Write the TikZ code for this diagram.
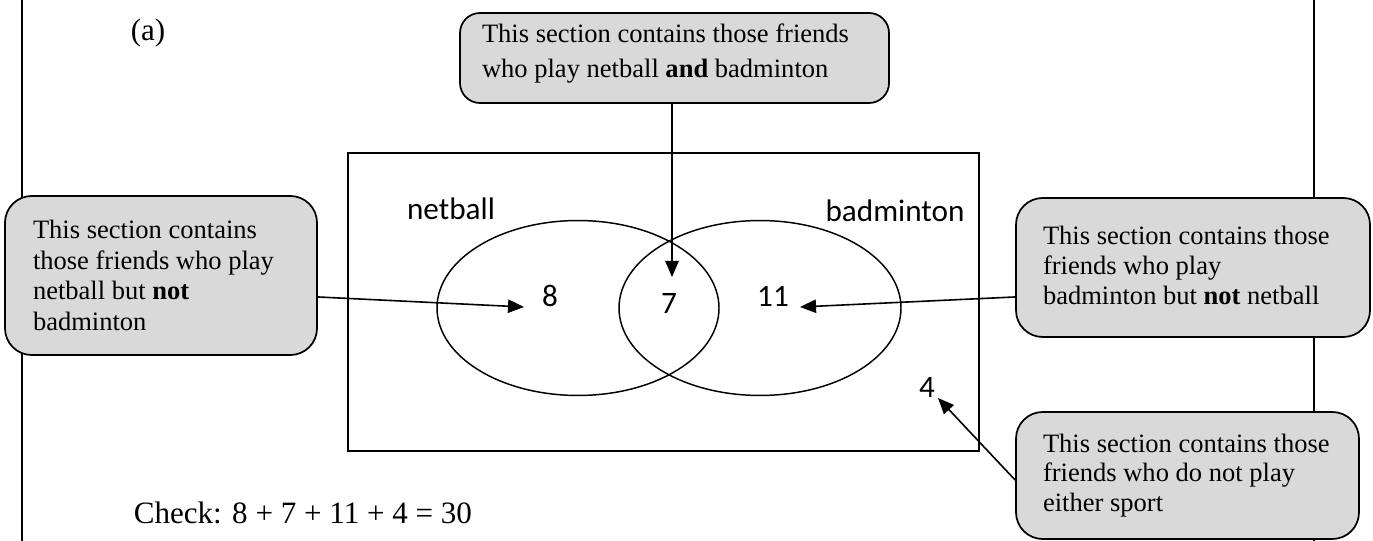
\documentclass[tikz,border=0pt]{standalone}
\usepackage{fontspec}
\setmainfont{Liberation Serif}
\newfontfamily\calibri{Carlito}
\usetikzlibrary{arrows.meta,calc}
\definecolor{boxgray}{RGB}{217,217,217}
\begin{document}
\begin{tikzpicture}[x=0.75pt,y=-0.75pt, line width=1.3pt,
  callout/.style={draw, fill=boxgray, rounded corners=20pt, inner sep=0pt},
  boxtext/.style={anchor=west, align=left, inner sep=0pt},
  num/.style={font=\calibri\fontsize{23.4}{28}\selectfont, inner sep=0pt},
  big/.style={font=\fontsize{23.3}{28}\selectfont, inner sep=0pt},
  setline/.style={line width=1.1pt},
  pointer/.style={-{Triangle[length=12pt,width=10pt]}, line width=1.2pt}]
\useasboundingbox (0,0) rectangle (1373,541);
% outer frame (vertical sides)
\draw (22,0) -- (22,541);
\draw (1314,0) -- (1314,541);
% universal set and sets
\node[draw, minimum width=473.25pt, minimum height=223.5pt, inner sep=0pt] (U) at (663.5,302) {};
\draw[setline] (578,308) ellipse [x radius=105.75pt, y radius=65.6pt];
\draw[setline] (760,308) ellipse [x radius=105.75pt, y radius=65.6pt];
\node[num] (nb) at (451,209) {netball};
\node[num] (bd) at (895,211) {badminton};
\node[num] (n8) at (550,296) {8};
\node[num] (n7) at (669,303) {7};
\node[num] (n11) at (773,296) {11};
\node[num] (n4) at (927,387) {4};
% labels
\node[big] (lbl) at (148,33) {(a)};
\node[big, anchor=west] (chk) at (133,513) {Check: 8 + 7 + 11 + 4 = 30};
% callouts
\node[callout, minimum width=234pt, minimum height=119.25pt] (lb) at (161,275.5) {};
\node[boxtext, font=\fontsize{19.9}{23}\selectfont] (lbt) at ([xshift=21pt]lb.west)
  {This section contains\\those friends who play\\netball but \textbf{not}\\badminton};
\node[callout, rounded corners=15pt, minimum width=321.75pt, minimum height=67.5pt] (tb) at (674.5,58) {};
\node[boxtext, font=\fontsize{19.9}{26}\selectfont] (tbt) at ([xshift=16.5pt,yshift=3.5pt]tb.west)
  {This section contains those friends\\who play netball \textbf{and} badminton};
\node[callout, minimum width=265.5pt, minimum height=104.25pt] (rb) at (1193,267.5) {};
\node[boxtext, font=\fontsize{19.9}{22.5}\selectfont] (rbt) at ([xshift=20.25pt,yshift=1.5pt]rb.west)
  {This section contains those\\friends who play\\badminton but \textbf{not} netball};
\node[callout, minimum width=257.25pt, minimum height=95.25pt] (brb) at (1187.5,475.5) {};
\node[boxtext, font=\fontsize{19.9}{22}\selectfont] (brbt) at ([xshift=20.25pt]brb.west)
  {This section contains those\\friends who do not play\\either sport};
% connectors
\coordinate (t8) at (524,307);
\coordinate (t7) at (672,277);
\coordinate (t11) at (800,307);
\coordinate (t4) at (938,398);
\draw[pointer] ([yshift=-16.1pt]lb.east) -- (t8);
\draw[pointer] (tb.south -| t7) -- (t7);
\draw[pointer] ([yshift=-22.1pt]rb.west) -- (t11);
\draw[pointer] ([yshift=-3.4pt]brb.west) -- (t4);
\end{tikzpicture}
\end{document}
